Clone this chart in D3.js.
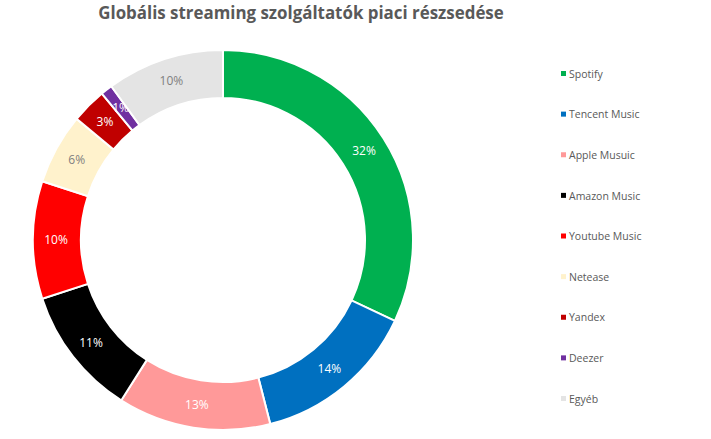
<!DOCTYPE html>
<html>
<head>
<meta charset="utf-8">
<script src="https://cdn.jsdelivr.net/npm/d3@7"></script>
<style>
  body { margin: 0; background: #fff; }
  svg { display: block; }
</style>
</head>
<body>
<div id="chart"></div>
<script>
// adatok
var categories = ["Spotify", "Tencent Music", "Apple Musuic", "Amazon Music", "Youtube Music", "Netease", "Yandex", "Deezer", "Egyéb"];
var shares = [32, 14, 13, 11, 10, 6, 3, 1, 10];
var colors = ["#00B050", "#0070C0", "#FF9999", "#000000", "#FF0000", "#FFF2CC", "#C00000", "#7030A0", "#E4E4E4"];
var labelColors = ["#fff", "#fff", "#fff", "#fff", "#fff", "#7f7f7f", "#fff", "#fff", "#7f7f7f"];

var width = 711, height = 439;
var cx = 223, cy = 240, outerR = 190, innerR = 142;

var dataset = categories.map(function(c, i) {
    return { name: c, value: shares[i], color: colors[i], labelColor: labelColors[i] };
});

var svg = d3.select("#chart")
    .append("svg")
    .attr("width", width)
    .attr("height", height);

svg.append("text")
    .attr("x", 301)
    .attr("y", 19)
    .attr("text-anchor", "middle")
    .attr("font-family", "'Open Sans', sans-serif")
    .attr("font-weight", "bold")
    .attr("font-size", "16.9px")
    .attr("fill", "#595959")
    .text("Globális streaming szolgáltatók piaci részsedése");

var pie = d3.pie().value(d => d.value).sort(null);
var arc = d3.arc().innerRadius(innerR).outerRadius(outerR);
var labelArc = d3.arc().innerRadius((innerR + outerR) / 2 + 1).outerRadius((innerR + outerR) / 2 + 1);

var g = svg.append("g").attr("transform", `translate(${cx}, ${cy})`);

var arcs = g.selectAll("g.slice")
    .data(pie(dataset))
    .enter()
    .append("g")
    .attr("class", "slice");

arcs.append("path")
    .attr("d", arc)
    .attr("fill", d => d.data.color)
    .attr("stroke", "#fff")
    .attr("stroke-width", 2);

arcs.append("text")
    .attr("transform", d => `translate(${labelArc.centroid(d)})`)
    .attr("text-anchor", "middle")
    .attr("dy", "0.35em")
    .attr("font-family", "'Open Sans', sans-serif")
    .attr("font-size", "12px")
    .attr("fill", d => d.data.labelColor)
    .text(d => d.data.value + "%");

// jelmagyarázat
var legendY = d3.scalePoint()
    .domain(categories)
    .range([74, 399]);

var legend = svg.selectAll("g.legend")
    .data(dataset)
    .enter()
    .append("g")
    .attr("class", "legend")
    .attr("transform", d => `translate(561, ${legendY(d.name)})`);

legend.append("rect")
    .attr("x", 0)
    .attr("y", -3)
    .attr("width", 5)
    .attr("height", 5)
    .attr("fill", d => d.color);

legend.append("text")
    .attr("x", 8)
    .attr("y", 0)
    .attr("dy", "0.35em")
    .attr("font-family", "'Open Sans', sans-serif")
    .attr("font-size", "10.5px")
    .attr("fill", "#595959")
    .text(d => d.name);
</script>
</body>
</html>
